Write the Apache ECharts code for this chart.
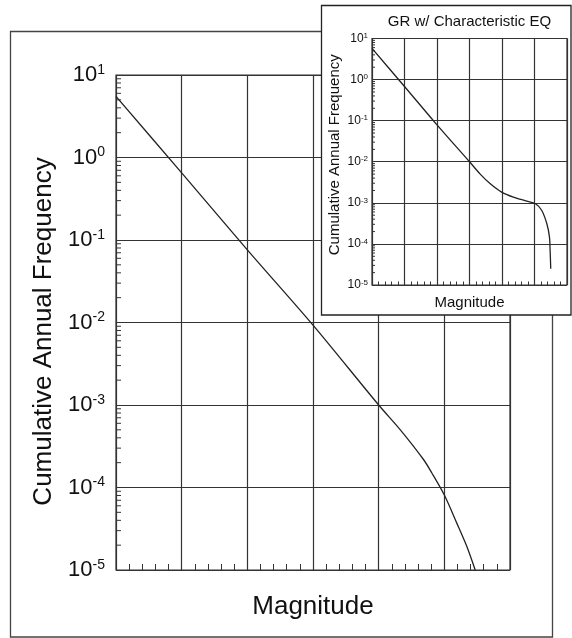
<!DOCTYPE html>
<html>
<head>
<meta charset="utf-8">
<script src="https://cdn.jsdelivr.net/npm/echarts@6/dist/echarts.min.js"></script>
<style>
  html, body { margin: 0; padding: 0; background: #fff; }
  #main { width: 572px; height: 638px; }
</style>
</head>
<body>
<div id="main"></div>
<script>
// magnitude axis has no labels in the figure, 4..10 is just a stand-in range
const magRange = [4, 10];
const freqRange = [1e-5, 10];

// plain (truncated) Gutenberg-Richter, main panel
const grMag  = [4.0, 5.0, 6.0, 7.0, 8.0, 8.33, 8.68, 8.81, 9.0, 9.19, 9.34, 9.47];
const grFreq = [5.5, 0.65, 0.076, 0.0093, 0.001, 0.0005, 0.00022, 0.00015, 0.000081, 0.000037, 0.0000195, 0.00001];

// GR w/ characteristic EQ, inset
const charMag  = [4.0, 5.0, 6.0, 7.0, 7.33, 7.64, 8.0, 8.35, 8.76, 9.03, 9.22, 9.38, 9.46, 9.48, 9.5];
const charFreq = [5.75, 0.68, 0.079, 0.01, 0.005, 0.0029, 0.0018, 0.00138, 0.0011, 0.00095, 0.00066, 0.00031, 0.000148, 0.000071, 0.000025];

// log minor ticks (2..9 in every decade)
const minorMantissa = [2, 3, 4, 5, 6, 7, 8, 9];
const decades = [-5, -4, -3, -2, -1, 0];

const minorTicks = [];
decades.forEach(d => minorMantissa.forEach(m => minorTicks.push(m * Math.pow(10, d))));

const ink = '#333';
const font = '"Liberation Sans", Arial, Helvetica, sans-serif';

const chartDom = document.getElementById('main');
const myChart = echarts.init(chartDom, null, { renderer: 'canvas' });

function expLabel(v) {
  const e = Math.round(Math.log10(v));
  return '{b|10}{s|' + e + '}';
}

function xAxisFor(idx, tickLen, nameSize, nameGap, z) {
  return {
    type: 'value', gridIndex: idx, min: magRange[0], max: magRange[1], interval: 1,
    name: 'Magnitude', nameLocation: 'middle', nameGap: nameGap,
    nameTextStyle: { fontFamily: font, fontSize: nameSize, color: '#111' },
    axisLine: { show: false },
    axisTick: { show: false, inside: true },
    axisLabel: { show: false },
    minorTick: { show: true, splitNumber: 5, length: tickLen, lineStyle: { color: ink, width: 1 } },
    splitLine: { show: true, lineStyle: { color: ink, width: 1.2 } },
    z: z
  };
}

function yAxisFor(idx, b, s, margin, nameSize, nameGap, namePad, z) {
  return {
    type: 'log', logBase: 10, gridIndex: idx, min: freqRange[0], max: freqRange[1],
    splitNumber: 6, interval: 1,
    name: 'Cumulative Annual Frequency', nameLocation: 'middle', nameGap: nameGap,
    nameTextStyle: { fontFamily: font, fontSize: nameSize, color: '#111', padding: namePad },
    axisLine: { show: false },
    axisTick: { show: false },
    axisLabel: {
      margin: margin,
      formatter: expLabel,
      rich: {
        b: { fontFamily: font, fontSize: b, color: '#111' },
        s: { fontFamily: font, fontSize: s, color: '#111', padding: [0, 0, Math.round(b * 0.45), 0] }
      }
    },
    splitLine: { show: true, lineStyle: { color: ink, width: 1.2 } },
    z: z
  };
}

function minorTickSeries(idx, len, z) {
  return {
    type: 'custom', xAxisIndex: idx, yAxisIndex: idx, silent: true, z: z,
    data: minorTicks.map(v => [magRange[0], v]),
    renderItem: function (params, api) {
      const p = api.coord([api.value(0), api.value(1)]);
      return {
        type: 'line',
        shape: { x1: p[0], y1: p[1], x2: p[0] + len, y2: p[1] },
        style: { stroke: ink, lineWidth: 1 }
      };
    }
  };
}

const option = {
  animation: false,
  backgroundColor: '#fff',
  graphic: [
    {
      type: 'rect', z: 0, silent: true,
      shape: { x: 10.5, y: 31.5, width: 542, height: 605.5 },
      style: { fill: 'none', stroke: '#444', lineWidth: 1.3 }
    },
    {
      type: 'rect', z: 10, silent: true,
      shape: { x: 321.5, y: 5.5, width: 249.5, height: 309.5 },
      style: { fill: '#fff', stroke: '#222', lineWidth: 1.3 }
    },
    {
      type: 'text', z: 30, silent: true,
      x: 469.5, y: 22,
      style: {
        text: 'GR w/ Characteristic EQ', align: 'center', verticalAlign: 'middle',
        font: '15px ' + font, fill: '#111'
      }
    }
  ],
  grid: [
    { left: 116, top: 75, width: 394, height: 495, show: true, borderColor: ink, borderWidth: 1.2, outerBoundsMode: 'none' },
    { left: 372, top: 38.5, width: 195, height: 246.5, show: true, backgroundColor: '#fff', borderColor: ink, borderWidth: 1.2, z: 11, outerBoundsMode: 'none' }
  ],
  xAxis: [
    xAxisFor(0, 6, 26, 24, 1),
    xAxisFor(1, 3.5, 15, 10, 12)
  ],
  yAxis: [
    yAxisFor(0, 22, 14, 11, 26, 56, [0, 18, 0, 0], 1),
    yAxisFor(1, 12, 8, 4, 15, 30, [0, 0, 0, 14], 12)
  ],
  series: [
    {
      type: 'line', xAxisIndex: 0, yAxisIndex: 0, z: 3,
      data: grMag.map((m, i) => [m, grFreq[i]]),
      showSymbol: false, smooth: 0.3,
      lineStyle: { color: '#222', width: 1.3 }
    },
    minorTickSeries(0, 5, 2),
    {
      type: 'line', xAxisIndex: 1, yAxisIndex: 1, z: 14,
      data: charMag.map((m, i) => [m, charFreq[i]]),
      showSymbol: false, smooth: 0.3,
      lineStyle: { color: '#222', width: 1.3 }
    },
    minorTickSeries(1, 3, 14)
  ]
};

myChart.setOption(option);
</script>
</body>
</html>
